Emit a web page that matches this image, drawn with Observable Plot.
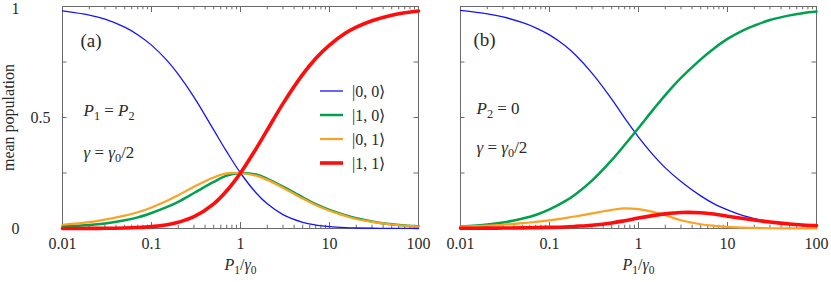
<!DOCTYPE html>
<html><head><meta charset="utf-8">
<script src="https://cdn.jsdelivr.net/npm/d3@7"></script>
<script src="https://cdn.jsdelivr.net/npm/@observablehq/plot@0.6"></script>
<style>
html,body{margin:0;padding:0;background:#fff;}
#chart{position:relative;width:831px;height:282px;}
#legend{position:absolute;left:320px;top:79px;}
.row{display:flex;align-items:center;height:24px;font-size:16px;color:#2a2a2a;white-space:nowrap;}
.row svg{margin-right:9px;display:block;}
</style></head><body><div id="chart"></div>
<script>
// ---- data ----
const pumpRatio = [0.01,0.02,0.03,0.05,0.07,0.1,0.15,0.2,0.3,0.5,0.7,1,1.5,2,3,5,7,10,15,20,30,50,70,100];
const stateLabels = ["|0, 0⟩","|1, 0⟩","|0, 1⟩","|1, 1⟩"];
const panelNames = ["a","b"];
const panelTags = ["(a)","(b)"];
const panelCondition = ["P1 = P2","P2 = 0"];
const panelGamma = ["γ = γ0/2","γ = γ0/2"];
const xTickLabels = ["0.01","0.1","1","10","100"];
const yTickLabels = ["0","0.5","1"];

// panel (a): P1 = P2
const a00 = [0.980,0.961,0.943,0.907,0.873,0.826,0.756,0.694,0.592,0.444,0.346,0.250,0.160,0.111,0.0625,0.0278,0.0156,0.0083,0.0039,0.0023,0.0011,0.0004,0.0002,0.0001];
const a10 = [0.009,0.016,0.023,0.037,0.050,0.070,0.097,0.120,0.160,0.210,0.238,0.250,0.243,0.224,0.189,0.140,0.110,0.084,0.060,0.046,0.032,0.019,0.014,0.010];
const a01 = [0.017,0.029,0.040,0.058,0.073,0.095,0.125,0.150,0.188,0.230,0.248,0.250,0.238,0.219,0.184,0.135,0.106,0.080,0.057,0.043,0.030,0.018,0.013,0.009];
const a11 = [0.0001,0.0004,0.0008,0.0023,0.0043,0.0083,0.017,0.028,0.053,0.111,0.170,0.250,0.360,0.444,0.5625,0.694,0.766,0.826,0.879,0.907,0.936,0.961,0.972,0.980];
// panel (b): P2 = 0
const b00 = [0.983,0.967,0.953,0.927,0.904,0.872,0.823,0.778,0.700,0.583,0.497,0.412,0.326,0.273,0.212,0.147,0.112,0.084,0.058,0.045,0.031,0.019,0.014,0.010];
const b10 = [0.009,0.018,0.027,0.045,0.061,0.086,0.123,0.157,0.216,0.308,0.377,0.453,0.541,0.601,0.678,0.762,0.810,0.854,0.893,0.914,0.939,0.960,0.970,0.977];
const b01 = [0.009,0.013,0.017,0.024,0.030,0.037,0.047,0.055,0.068,0.084,0.091,0.087,0.074,0.060,0.037,0.019,0.012,0.007,0.004,0.0025,0.0012,0.0005,0.0003,0.0002];
const b11 = [0.001,0.0015,0.002,0.003,0.004,0.005,0.007,0.010,0.015,0.025,0.035,0.047,0.059,0.066,0.072,0.071,0.065,0.055,0.045,0.038,0.029,0.020,0.016,0.013];

const xMajor = [0.01,0.1,1,10,100];
const xMinor = [0.02,0.03,0.04,0.05,0.06,0.07,0.08,0.09,0.2,0.3,0.4,0.5,0.6,0.7,0.8,0.9,2,3,4,5,6,7,8,9,20,30,40,50,60,70,80,90];
const yMajor = [0, 0.5, 1];
const yMinor = [0.25,0.5,0.75];

// ---- styles ----
const colors = ["#1414ff","#00a04e","#f9a225","#ff0d0d"];
const widths = [1.3,2.5,2.2,3.6];
const frameColor = "#6a6a6a";
const textColor = "#2a2a2a";

// pick the first installed serif family
function pickFont(cands) {
  const c = document.createElement("canvas").getContext("2d");
  const s = "mean population 0.01 (a)";
  c.font = "16px monospace";
  const base = c.measureText(s).width;
  for (const f of cands) {
    c.font = `16px "${f}", monospace`;
    if (Math.abs(c.measureText(s).width - base) > 0.5) return `"${f}", serif`;
  }
  return "serif";
}
const fontFamily = pickFont(["Liberation Serif", "DejaVu Serif", "Noto Serif"]);

// ---- build table ----
const series = {a: [a00,a10,a01,a11], b: [b00,b10,b01,b11]};
const rows = [];
for (const p of panelNames) series[p].forEach((vals, s) => vals.forEach((v, i) => rows.push({panel: p, state: s, x: pumpRatio[i], y: v})));
const ann = panelNames.map((p, i) => ({panel: p, tag: panelTags[i], cond: panelCondition[i], gamma: panelGamma[i]}));

const W = 831, H = 282, mL = 62, mR = 14, mT = 6, mB = 54;
const gap = 42;
const inner = W - mL - mR;
const step = (inner + gap) / 2;
const pIn = gap / step;
const fw = step - gap, fh = H - mT - mB;

const lineMarks = [0,1,2,3].map(s => Plot.line(rows.filter(r => r.state === s), {
  fx: "panel", x: "x", y: "y", stroke: colors[s], strokeWidth: widths[s], curve: "catmull-rom"
}));

const txt = (data, opts) => Plot.text(data, {fx: "panel", fill: textColor, textAnchor: "start", lineAnchor: "middle", frameAnchor: "top-left", ...opts});
const fmtX = d => xTickLabels[xMajor.indexOf(d)];
const fmtY = d => yTickLabels[yMajor.indexOf(d)];

const chart = Plot.plot({
  width: W, height: H,
  marginLeft: mL, marginRight: mR, marginTop: mT, marginBottom: mB,
  style: {fontFamily, fontSize: "16px", color: textColor, background: "#fff"},
  fx: {domain: panelNames, paddingInner: pIn, paddingOuter: 0, axis: null, label: null},
  x: {type: "log", domain: [0.01, 100], label: null},
  y: {domain: [0, 1], label: null},
  marks: [
    Plot.frame({stroke: frameColor, strokeWidth: 1}),
    Plot.tickX(xMajor, {x: d => d, insetTop: fh - 6, stroke: frameColor}),
    Plot.tickX(xMajor, {x: d => d, insetBottom: fh - 6, stroke: frameColor}),
    Plot.tickX(xMinor, {x: d => d, insetTop: fh - 3.3, stroke: frameColor}),
    Plot.tickX(xMinor, {x: d => d, insetBottom: fh - 3.3, stroke: frameColor}),
    Plot.tickY(yMinor, {y: d => d, insetRight: fw - 5, stroke: frameColor}),
    Plot.tickY(yMinor, {y: d => d, insetLeft: fw - 5, stroke: frameColor}),
    Plot.axisX({ticks: xMajor, tickSize: 0, tickPadding: 9, tickFormat: fmtX, label: null, fontSize: 16}),
    Plot.axisY({ticks: [0], tickSize: 0, tickPadding: 43, tickFormat: fmtY, label: null, fontSize: 16}),
    Plot.axisY({ticks: [1], tickSize: 0, tickPadding: 43, dy: 2, tickFormat: fmtY, label: null, fontSize: 16}),
    Plot.axisY({ticks: [0.5], tickSize: 0, tickPadding: 12, tickFormat: fmtY, fontSize: 16,
      label: "mean population", labelAnchor: "center", labelOffset: 60, labelArrow: "none"}),
    ...lineMarks,
    txt(ann.filter(d => d.panel === "a"), {text: "tag", dx: 18, dy: 34, fontSize: 19}),
    txt(ann.filter(d => d.panel === "b"), {text: "tag", dx: 13, dy: 33, fontSize: 19}),
    txt(ann.filter(d => d.panel === "a"), {text: "cond", dx: 21, dy: 104, fontSize: 17}),
    txt(ann.filter(d => d.panel === "b"), {text: "cond", dx: 16, dy: 102, fontSize: 17}),
    txt(ann.filter(d => d.panel === "a"), {text: "gamma", dx: 21, dy: 146, fontSize: 17}),
    txt(ann.filter(d => d.panel === "b"), {text: "gamma", dx: 16, dy: 141, fontSize: 17}),
    Plot.text(panelNames, {fx: d => d, text: () => "P1/γ0", frameAnchor: "bottom", dy: 41, fill: textColor, fontSize: 16})
  ]
});

// math-style formatting of labels (italic symbols, subscripts)
const mathParts = {
  "P1/γ0": [["P","i"],["1","s"],["/","n"],["γ","i"],["0","s"]],
  "P1 = P2": [["P","i"],["1","s"],[" = ","n"],["P","i"],["2","s"]],
  "P2 = 0": [["P","i"],["2","s"],[" = 0","n"]],
  "γ = γ0/2": [["γ","i"],[" = ","n"],["γ","i"],["0","s"],["/2","n"]]
};
chart.querySelectorAll("text").forEach(t => {
  const parts = mathParts[t.textContent];
  if (!parts) return;
  let html = "", sub = false;
  for (const [s, k] of parts) {
    let dy = 0;
    if (k === "s" && !sub) { dy = 4; sub = true; }
    else if (k !== "s" && sub) { dy = -4; sub = false; }
    const attrs = [];
    if (dy) attrs.push(`dy="${dy}"`);
    if (k === "i") attrs.push(`font-style="italic"`);
    if (k === "s") attrs.push(`font-size="0.72em"`);
    html += `<tspan ${attrs.join(" ")}>${s.replace(/ /g, "\u00a0")}</tspan>`;
  }
  t.innerHTML = html;
});

const root = document.getElementById("chart");
root.appendChild(chart);

// legend (inside panel a)
const legend = document.createElement("div");
legend.id = "legend";
legend.style.fontFamily = fontFamily;
stateLabels.forEach((lab, s) => {
  const row = document.createElement("div");
  row.className = "row";
  row.innerHTML = `<svg width="23" height="8"><line x1="0" x2="23" y1="4" y2="4" stroke="${colors[s]}" stroke-width="${widths[s]}"/></svg><span>${lab}</span>`;
  legend.appendChild(row);
});
root.appendChild(legend);
</script>
</body></html>
